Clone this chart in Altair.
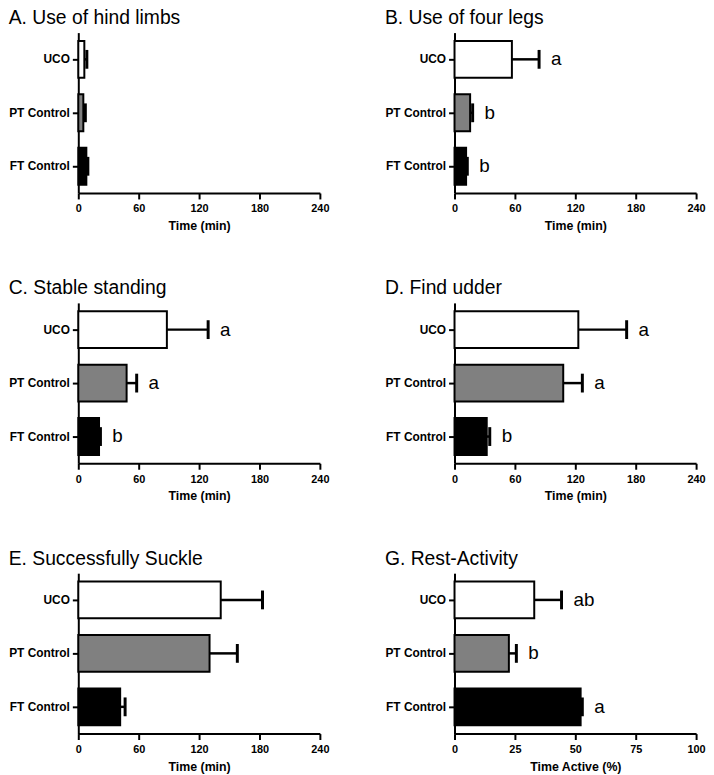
import altair as alt
import pandas as pd

groups = ["UCO", "PT Control", "FT Control"]
fills = ["white", "#808080", "black"]

titles = ["A. Use of hind limbs", "B. Use of four legs", "C. Stable standing",
          "D. Find udder", "E. Successfully Suckle", "G. Rest-Activity"]
means = [
    [6, 5, 8],
    [57, 15.5, 11.5],
    [88, 48, 20.6],
    [123, 108, 32],
    [141.5, 130.4, 41.6],
    [33, 22.5, 52.2],
]
errs = [
    [8.5, 7, 9.5],
    [84, 18, 12.7],
    [129, 58, 22],
    [171, 127, 35],
    [183, 158, 46.5],
    [44.3, 25.6, 52.9],
]
letters = [
    ["", "", ""],
    ["a", "b", "b"],
    ["a", "a", "b"],
    ["a", "a", "b"],
    ["", "", ""],
    ["ab", "b", "a"],
]
xtitles = ["Time (min)"] * 5 + ["Time Active (%)"]
xmax = [240] * 5 + [100]
xticks = [[0, 60, 120, 180, 240]] * 5 + [[0, 25, 50, 75, 100]]

FONT = "Liberation Sans"


def panel(i):
    df = pd.DataFrame({"group": groups, "mean": means[i], "err": errs[i], "letter": letters[i]})
    y = alt.Y("group:N", sort=groups, title=None,
              scale=alt.Scale(paddingInner=0.31, paddingOuter=0.155),
              axis=alt.Axis(labelFontSize=12, labelFontWeight="bold", labelFont=FONT,
                            labelPadding=3, tickSize=6))
    xscale = alt.Scale(domain=[0, xmax[i]], nice=False)
    xaxis = alt.Axis(values=xticks[i], labelFontSize=11, labelFontWeight="bold", labelFont=FONT,
                     titleFontSize=12.5, titleFontWeight="bold", titleFont=FONT,
                     tickSize=6, labelPadding=4, titlePadding=6, labelFlush=False)
    base = alt.Chart(df)
    bars = base.mark_bar(stroke="black", strokeWidth=2, opacity=1).encode(
        x=alt.X("mean:Q", scale=xscale, axis=xaxis, title=xtitles[i]),
        y=y,
        fill=alt.Fill("group:N", scale=alt.Scale(domain=groups, range=fills), legend=None),
    )
    rule = base.mark_rule(color="black", strokeWidth=2.5, opacity=1).encode(
        x="mean:Q", x2="err:Q", y=alt.Y("group:N", sort=groups)
    )
    cap = base.mark_tick(color="black", thickness=3, size=19, opacity=1).encode(
        x="err:Q", y=alt.Y("group:N", sort=groups)
    )
    txt = base.mark_text(align="left", baseline="middle", dx=12, fontSize=19, font=FONT,
                         color="black").encode(
        x="err:Q", y=alt.Y("group:N", sort=groups), text="letter:N"
    )
    return alt.layer(bars, rule, cap, txt).properties(
        width=244, height=162, title=titles[i]
    )


rows = [alt.hconcat(panel(2 * r), panel(2 * r + 1), spacing=55) for r in range(3)]
chart = alt.vconcat(*rows, spacing=46).properties(
    padding={"top": -4, "left": 0, "right": 0, "bottom": 0}
).configure_view(
    stroke=None
).configure_axis(
    grid=False, domainColor="black", domainWidth=2, tickColor="black", tickWidth=2,
    labelColor="black", titleColor="black"
).configure_title(
    anchor="start", frame="bounds", fontSize=19.5, font=FONT, fontWeight="normal",
    color="black", offset=4
)

chart.save("out.html", embed_options={"renderer": "svg", "actions": False})
